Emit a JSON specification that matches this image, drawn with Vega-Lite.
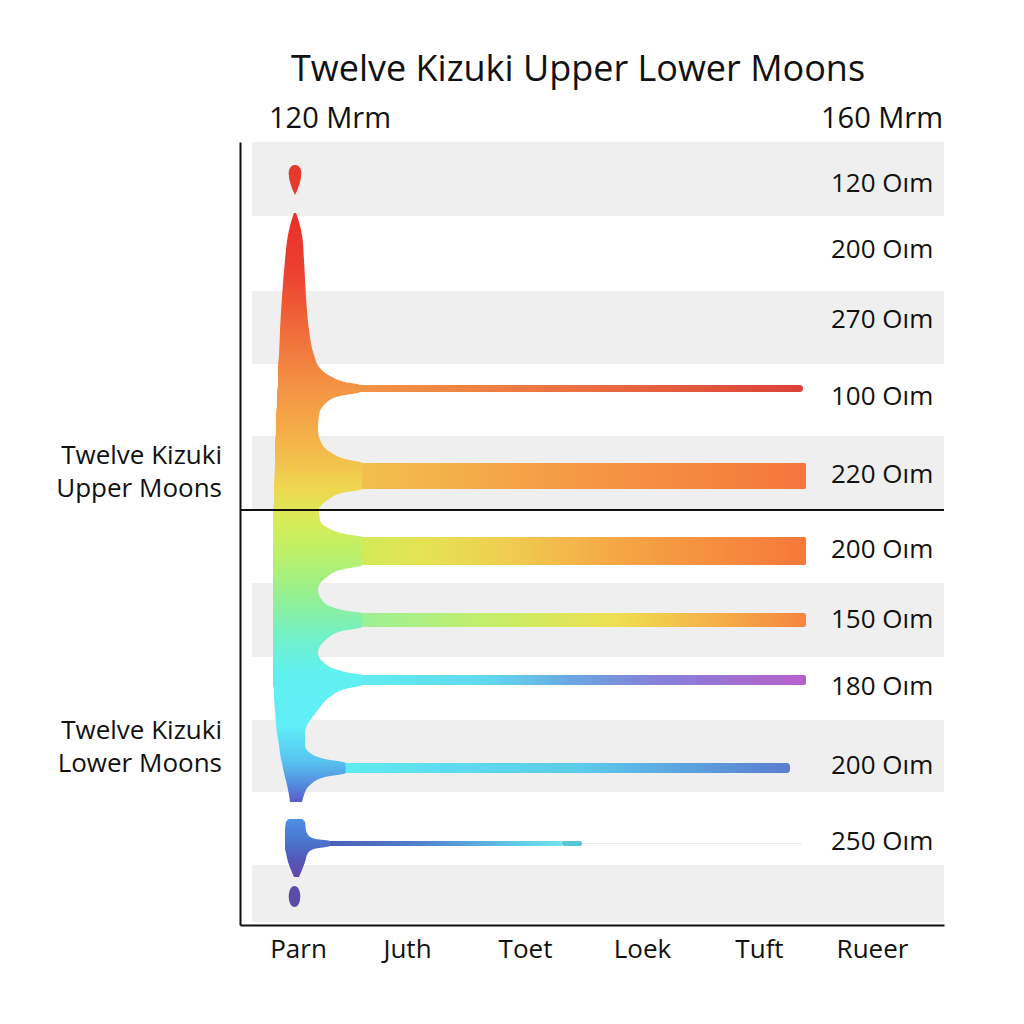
{
  "$schema": "https://vega.github.io/schema/vega-lite/v6.json",
  "width": 704,
  "height": 783,
  "autosize": "none",
  "padding": {"left": 240, "top": 142, "right": 80, "bottom": 99},
  "background": "white",
  "title": {
    "text": "Twelve Kizuki Upper Lower Moons",
    "fontSize": 36, "font": "Open Sans", "fontWeight": "normal", "color": "#111",
    "anchor": "middle", "baseline": "alphabetic", "offset": 18, "dx": -14, "dy": 30
  },
  "datasets": {
    "bands": [
      {"x": 0.1023, "x2": 6, "y": 0, "y2": 1.0396},
      {"x": 0.1023, "x2": 6, "y": 2.0932, "y2": 3.1188},
      {"x": 0.1023, "x2": 6, "y": 4.1303, "y2": 5.1839},
      {"x": 0.1023, "x2": 6, "y": 6.1954, "y2": 7.235},
      {"x": 0.1023, "x2": 6, "y": 8.1201, "y2": 9.1316},
      {"x": 0.1023, "x2": 6, "y": 10.1571, "y2": 10.9579}
    ],
    "divider": [
      {"x": 0, "x2": 6, "y": 5.1699}
    ],
    "bars": [
      {"bar": "b4", "x": 0.95, "x2": 4.7983, "y": 3.4138, "y2": 3.5121},
      {"bar": "b5", "x": 0.95, "x2": 4.8239, "y": 4.5096, "y2": 4.8748},
      {"bar": "b6", "x": 0.95, "x2": 4.8239, "y": 5.5492, "y2": 5.9425},
      {"bar": "b7", "x": 0.95, "x2": 4.8239, "y": 6.6168, "y2": 6.8135},
      {"bar": "b8", "x": 0.95, "x2": 4.8239, "y": 7.4879, "y2": 7.6284},
      {"bar": "b9", "x": 0.78, "x2": 4.6875, "y": 8.7242, "y2": 8.8647},
      {"bar": "b10", "x": 0.7, "x2": 2.7443, "y": 9.82, "y2": 9.8903},
      {"bar": "b10end", "x": 2.7443, "x2": 2.9148, "y": 9.82, "y2": 9.8903},
      {"bar": "b10faint", "x": 2.9148, "x2": 4.7898, "y": 9.8481, "y2": 9.8622}
    ],
    "blob": [
      {"y": 0.9974, "xl": 0.4602, "xr": 0.4773},
      {"y": 1.1239, "xl": 0.4347, "xr": 0.5028},
      {"y": 1.3065, "xl": 0.4091, "xr": 0.5284},
      {"y": 1.6577, "xl": 0.3835, "xr": 0.5455},
      {"y": 2.1775, "xl": 0.358, "xr": 0.5625},
      {"y": 2.6411, "xl": 0.3409, "xr": 0.5881},
      {"y": 2.9923, "xl": 0.3324, "xr": 0.6307},
      {"y": 3.175, "xl": 0.3239, "xr": 0.6818},
      {"y": 3.2874, "xl": 0.3239, "xr": 0.767},
      {"y": 3.3716, "xl": 0.3239, "xr": 0.8949},
      {"y": 3.4138, "xl": 0.3239, "xr": 1.0227},
      {"y": 3.5121, "xl": 0.3153, "xr": 1.0227},
      {"y": 3.5683, "xl": 0.3153, "xr": 0.8523},
      {"y": 3.6666, "xl": 0.3153, "xr": 0.733},
      {"y": 3.8352, "xl": 0.3068, "xr": 0.6733},
      {"y": 4.046, "xl": 0.3068, "xr": 0.6648},
      {"y": 4.2146, "xl": 0.2983, "xr": 0.6903},
      {"y": 4.355, "xl": 0.2983, "xr": 0.767},
      {"y": 4.4534, "xl": 0.2983, "xr": 0.8949},
      {"y": 4.5096, "xl": 0.2983, "xr": 1.0398},
      {"y": 4.8748, "xl": 0.2898, "xr": 1.0398},
      {"y": 4.931, "xl": 0.2898, "xr": 0.8693},
      {"y": 5.0294, "xl": 0.2898, "xr": 0.75},
      {"y": 5.1699, "xl": 0.2813, "xr": 0.6733},
      {"y": 5.3104, "xl": 0.2813, "xr": 0.6818},
      {"y": 5.4228, "xl": 0.2813, "xr": 0.75},
      {"y": 5.507, "xl": 0.2813, "xr": 0.8949},
      {"y": 5.5492, "xl": 0.2813, "xr": 1.0398},
      {"y": 5.9425, "xl": 0.2813, "xr": 1.0398},
      {"y": 6.0128, "xl": 0.2813, "xr": 0.8523},
      {"y": 6.1111, "xl": 0.2813, "xr": 0.7415},
      {"y": 6.2937, "xl": 0.2813, "xr": 0.6648},
      {"y": 6.4342, "xl": 0.2813, "xr": 0.6989},
      {"y": 6.5326, "xl": 0.2813, "xr": 0.7841},
      {"y": 6.5887, "xl": 0.2813, "xr": 0.9205},
      {"y": 6.6168, "xl": 0.2813, "xr": 1.0398},
      {"y": 6.8135, "xl": 0.2813, "xr": 1.0398},
      {"y": 6.8697, "xl": 0.2813, "xr": 0.8693},
      {"y": 6.9681, "xl": 0.2813, "xr": 0.75},
      {"y": 7.1788, "xl": 0.2813, "xr": 0.6648},
      {"y": 7.3052, "xl": 0.2813, "xr": 0.7074},
      {"y": 7.4036, "xl": 0.2813, "xr": 0.8097},
      {"y": 7.4598, "xl": 0.2813, "xr": 0.9375},
      {"y": 7.4879, "xl": 0.2813, "xr": 1.0398},
      {"y": 7.6284, "xl": 0.2813, "xr": 1.0398},
      {"y": 7.6846, "xl": 0.2898, "xr": 0.8949},
      {"y": 7.797, "xl": 0.2898, "xr": 0.767},
      {"y": 7.9796, "xl": 0.2983, "xr": 0.6648},
      {"y": 8.3027, "xl": 0.3153, "xr": 0.554},
      {"y": 8.4713, "xl": 0.3324, "xr": 0.554},
      {"y": 8.5837, "xl": 0.3409, "xr": 0.5966},
      {"y": 8.668, "xl": 0.3494, "xr": 0.7244},
      {"y": 8.7242, "xl": 0.358, "xr": 0.9},
      {"y": 8.8647, "xl": 0.375, "xr": 0.9},
      {"y": 8.9209, "xl": 0.3835, "xr": 0.7244},
      {"y": 9.0333, "xl": 0.4006, "xr": 0.5966},
      {"y": 9.1738, "xl": 0.4176, "xr": 0.5455},
      {"y": 9.2721, "xl": 0.4261, "xr": 0.5284}
    ],
    "blob2": [
      {"y": 9.511, "xl": 0.4176, "xr": 0.5284},
      {"y": 9.5531, "xl": 0.392, "xr": 0.554},
      {"y": 9.6655, "xl": 0.3835, "xr": 0.5625},
      {"y": 9.7498, "xl": 0.3835, "xr": 0.5881},
      {"y": 9.7919, "xl": 0.3835, "xr": 0.6477},
      {"y": 9.82, "xl": 0.3835, "xr": 0.767},
      {"y": 9.8903, "xl": 0.3835, "xr": 0.767},
      {"y": 9.9324, "xl": 0.3835, "xr": 0.6307},
      {"y": 9.9886, "xl": 0.392, "xr": 0.5795},
      {"y": 10.115, "xl": 0.4091, "xr": 0.554},
      {"y": 10.2274, "xl": 0.4347, "xr": 0.5284},
      {"y": 10.3257, "xl": 0.4602, "xr": 0.5028}
    ],
    "drops": [
      {"kind": "top", "x": 0.4688, "y": 0.5338},
      {"kind": "bottom", "x": 0.4645, "y": 10.5996}
    ],
    "rowLabels": [
      {"label": "120 Oım", "y": 0.7024},
      {"label": "200 Oım", "y": 1.6296},
      {"label": "270 Oım", "y": 2.613},
      {"label": "100 Oım", "y": 3.6948},
      {"label": "220 Oım", "y": 4.7906},
      {"label": "200 Oım", "y": 5.8442},
      {"label": "150 Oım", "y": 6.8276},
      {"label": "180 Oım", "y": 7.7688},
      {"label": "200 Oım", "y": 8.8787},
      {"label": "250 Oım", "y": 9.9464}
    ],
    "topLabels": [
      {"label": "120 Mrm", "x": 0.767, "y": -0.1967},
      {"label": "160 Mrm", "x": 5.4716, "y": -0.1967}
    ],
    "sideLabels": [
      {"label": ["Twelve Kizuki", "Upper Moons"], "x": -0.1534, "y": 4.5236},
      {"label": ["Twelve Kizuki", "Lower Moons"], "x": -0.1534, "y": 8.387}
    ]
  },
  "layer": [
    {
      "data": {"name": "bands"},
      "mark": {"type": "rect", "color": "#efefef"},
      "encoding": {
        "x": {
          "field": "x", "type": "quantitative", "title": null,
          "scale": {"domain": [0, 6]},
          "axis": {
            "values": [0.4943, 1.4233, 2.429, 3.4261, 4.4233, 5.3864],
            "labelExpr": "['Parn','Juth','Toet','Loek','Tuft','Rueer'][floor(datum.value)]",
            "ticks": false, "tickSize": 0, "grid": false,
            "domainColor": "#111", "domainWidth": 2,
            "labelFont": "Open Sans", "labelFontSize": 26, "labelColor": "#111",
            "labelBaseline": "alphabetic", "labelPadding": 32, "labelFlush": false
          }
        },
        "x2": {"field": "x2"},
        "y": {
          "field": "y", "type": "quantitative", "title": null,
          "scale": {"domain": [0, 11], "reverse": true},
          "axis": {
            "labels": false, "ticks": false, "grid": false,
            "domainColor": "#111", "domainWidth": 2
          }
        },
        "y2": {"field": "y2"}
      }
    },
    {
      "data": {"name": "bars"},
      "transform": [{"filter": "datum.bar == 'b4'"}],
      "mark": {"type": "rect", "cornerRadius": 3, "color": {"gradient": "linear", "x1": 0, "y1": 0, "x2": 1, "y2": 0,
        "stops": [{"offset": 0, "color": "#f29646"}, {"offset": 0.5, "color": "#ea7042"}, {"offset": 1, "color": "#dc4038"}]}},
      "encoding": {
        "x": {"field": "x", "type": "quantitative", "scale": {"domain": [0, 6]}, "title": null},
        "x2": {"field": "x2"},
        "y": {"field": "y", "type": "quantitative", "scale": {"domain": [0, 11], "reverse": true}, "title": null},
        "y2": {"field": "y2"}
      }
    },
    {
      "data": {"name": "bars"},
      "transform": [{"filter": "datum.bar == 'b5'"}],
      "mark": {"type": "rect", "cornerRadius": 2, "color": {"gradient": "linear", "x1": 0, "y1": 0, "x2": 1, "y2": 0,
        "stops": [{"offset": 0, "color": "#f2c24e"}, {"offset": 0.45, "color": "#f59c46"}, {"offset": 1, "color": "#f5763c"}]}},
      "encoding": {
        "x": {"field": "x", "type": "quantitative", "scale": {"domain": [0, 6]}, "title": null},
        "x2": {"field": "x2"},
        "y": {"field": "y", "type": "quantitative", "scale": {"domain": [0, 11], "reverse": true}, "title": null},
        "y2": {"field": "y2"}
      }
    },
    {
      "data": {"name": "bars"},
      "transform": [{"filter": "datum.bar == 'b6'"}],
      "mark": {"type": "rect", "cornerRadius": 2, "color": {"gradient": "linear", "x1": 0, "y1": 0, "x2": 1, "y2": 0,
        "stops": [{"offset": 0, "color": "#d0ea5a"}, {"offset": 0.15, "color": "#e4e454"}, {"offset": 0.35, "color": "#f0cc50"}, {"offset": 0.6, "color": "#f5a444"}, {"offset": 1, "color": "#f6783a"}]}},
      "encoding": {
        "x": {"field": "x", "type": "quantitative", "scale": {"domain": [0, 6]}, "title": null},
        "x2": {"field": "x2"},
        "y": {"field": "y", "type": "quantitative", "scale": {"domain": [0, 11], "reverse": true}, "title": null},
        "y2": {"field": "y2"}
      }
    },
    {
      "data": {"name": "bars"},
      "transform": [{"filter": "datum.bar == 'b7'"}],
      "mark": {"type": "rect", "cornerRadius": 2, "color": {"gradient": "linear", "x1": 0, "y1": 0, "x2": 1, "y2": 0,
        "stops": [{"offset": 0, "color": "#98f09a"}, {"offset": 0.3, "color": "#c4ee6a"}, {"offset": 0.58, "color": "#eee050"}, {"offset": 0.8, "color": "#f5b048"}, {"offset": 1, "color": "#f58440"}]}},
      "encoding": {
        "x": {"field": "x", "type": "quantitative", "scale": {"domain": [0, 6]}, "title": null},
        "x2": {"field": "x2"},
        "y": {"field": "y", "type": "quantitative", "scale": {"domain": [0, 11], "reverse": true}, "title": null},
        "y2": {"field": "y2"}
      }
    },
    {
      "data": {"name": "bars"},
      "transform": [{"filter": "datum.bar == 'b8'"}],
      "mark": {"type": "rect", "cornerRadius": 2, "color": {"gradient": "linear", "x1": 0, "y1": 0, "x2": 1, "y2": 0,
        "stops": [{"offset": 0, "color": "#60eef0"}, {"offset": 0.3, "color": "#62d8f0"}, {"offset": 0.48, "color": "#6aa8e0"}, {"offset": 0.66, "color": "#8484d8"}, {"offset": 1, "color": "#b860cc"}]}},
      "encoding": {
        "x": {"field": "x", "type": "quantitative", "scale": {"domain": [0, 6]}, "title": null},
        "x2": {"field": "x2"},
        "y": {"field": "y", "type": "quantitative", "scale": {"domain": [0, 11], "reverse": true}, "title": null},
        "y2": {"field": "y2"}
      }
    },
    {
      "data": {"name": "bars"},
      "transform": [{"filter": "datum.bar == 'b9'"}],
      "mark": {"type": "rect", "cornerRadius": 3, "color": {"gradient": "linear", "x1": 0, "y1": 0, "x2": 1, "y2": 0,
        "stops": [{"offset": 0, "color": "#60ecf0"}, {"offset": 0.55, "color": "#5ccaec"}, {"offset": 1, "color": "#5a7cd0"}]}},
      "encoding": {
        "x": {"field": "x", "type": "quantitative", "scale": {"domain": [0, 6]}, "title": null},
        "x2": {"field": "x2"},
        "y": {"field": "y", "type": "quantitative", "scale": {"domain": [0, 11], "reverse": true}, "title": null},
        "y2": {"field": "y2"}
      }
    },
    {
      "data": {"name": "bars"},
      "transform": [{"filter": "datum.bar == 'b10faint'"}],
      "mark": {"type": "rect", "color": "#ebebeb"},
      "encoding": {
        "x": {"field": "x", "type": "quantitative", "scale": {"domain": [0, 6]}, "title": null},
        "x2": {"field": "x2"},
        "y": {"field": "y", "type": "quantitative", "scale": {"domain": [0, 11], "reverse": true}, "title": null},
        "y2": {"field": "y2"}
      }
    },
    {
      "data": {"name": "bars"},
      "transform": [{"filter": "datum.bar == 'b10end'"}],
      "mark": {"type": "rect", "cornerRadius": 2, "color": "#5cc4d8"},
      "encoding": {
        "x": {"field": "x", "type": "quantitative", "scale": {"domain": [0, 6]}, "title": null},
        "x2": {"field": "x2"},
        "y": {"field": "y", "type": "quantitative", "scale": {"domain": [0, 11], "reverse": true}, "title": null},
        "y2": {"field": "y2"}
      }
    },
    {
      "data": {"name": "bars"},
      "transform": [{"filter": "datum.bar == 'b10'"}],
      "mark": {"type": "rect", "color": {"gradient": "linear", "x1": 0, "y1": 0, "x2": 1, "y2": 0,
        "stops": [{"offset": 0, "color": "#4a5cb8"}, {"offset": 0.4, "color": "#5080cc"}, {"offset": 0.8, "color": "#60c8e8"}, {"offset": 1, "color": "#70e4f0"}]}},
      "encoding": {
        "x": {"field": "x", "type": "quantitative", "scale": {"domain": [0, 6]}, "title": null},
        "x2": {"field": "x2"},
        "y": {"field": "y", "type": "quantitative", "scale": {"domain": [0, 11], "reverse": true}, "title": null},
        "y2": {"field": "y2"}
      }
    },
    {
      "data": {"name": "blob"},
      "mark": {"type": "area", "orient": "horizontal", "interpolate": "monotone", "color": {"gradient": "linear", "x1": 0, "y1": 0, "x2": 0, "y2": 1,
        "stops": [
          {"offset": 0, "color": "#e8302a"},
          {"offset": 0.1, "color": "#ec4030"},
          {"offset": 0.2, "color": "#f06c3a"},
          {"offset": 0.3, "color": "#f49444"},
          {"offset": 0.4, "color": "#f4b84a"},
          {"offset": 0.47, "color": "#eed850"},
          {"offset": 0.52, "color": "#d8ec58"},
          {"offset": 0.57, "color": "#c0f064"},
          {"offset": 0.65, "color": "#94f090"},
          {"offset": 0.72, "color": "#72f0c8"},
          {"offset": 0.78, "color": "#60f0f0"},
          {"offset": 0.87, "color": "#60eef8"},
          {"offset": 0.93, "color": "#58c4f0"},
          {"offset": 0.975, "color": "#5484dc"},
          {"offset": 1, "color": "#5a5cc8"}
        ]}},
      "encoding": {
        "y": {"field": "y", "type": "quantitative", "scale": {"domain": [0, 11], "reverse": true}, "title": null},
        "x": {"field": "xl", "type": "quantitative", "scale": {"domain": [0, 6]}, "title": null},
        "x2": {"field": "xr"}
      }
    },
    {
      "data": {"name": "blob2"},
      "mark": {"type": "area", "orient": "horizontal", "interpolate": "monotone", "color": {"gradient": "linear", "x1": 0, "y1": 0, "x2": 0, "y2": 1,
        "stops": [
          {"offset": 0, "color": "#4c90e4"},
          {"offset": 0.35, "color": "#4a78d0"},
          {"offset": 0.7, "color": "#5458b8"},
          {"offset": 1, "color": "#6448a8"}
        ]}},
      "encoding": {
        "y": {"field": "y", "type": "quantitative", "scale": {"domain": [0, 11], "reverse": true}, "title": null},
        "x": {"field": "xl", "type": "quantitative", "scale": {"domain": [0, 6]}, "title": null},
        "x2": {"field": "xr"}
      }
    },
    {
      "data": {"name": "drops"},
      "transform": [{"filter": "datum.kind == 'top'"}],
      "mark": {"type": "point", "filled": true, "opacity": 1, "size": 900, "color": "#e63a2e",
        "shape": "M0,1 C-0.25,0.5 -0.42,0 -0.42,-0.45 C-0.42,-0.85 -0.2,-1 0,-1 C0.2,-1 0.42,-0.85 0.42,-0.45 C0.42,0 0.25,0.5 0,1 Z"},
      "encoding": {
        "x": {"field": "x", "type": "quantitative", "scale": {"domain": [0, 6]}, "title": null},
        "y": {"field": "y", "type": "quantitative", "scale": {"domain": [0, 11], "reverse": true}, "title": null}
      }
    },
    {
      "data": {"name": "drops"},
      "transform": [{"filter": "datum.kind == 'bottom'"}],
      "mark": {"type": "point", "filled": true, "opacity": 1, "size": 441, "color": "#5c4ca8",
        "shape": "M0,-1 C0.33,-1 0.55,-0.55 0.55,0 C0.55,0.55 0.33,1 0,1 C-0.33,1 -0.55,0.55 -0.55,0 C-0.55,-0.55 -0.33,-1 0,-1 Z"},
      "encoding": {
        "x": {"field": "x", "type": "quantitative", "scale": {"domain": [0, 6]}, "title": null},
        "y": {"field": "y", "type": "quantitative", "scale": {"domain": [0, 11], "reverse": true}, "title": null}
      }
    },
    {
      "data": {"name": "divider"},
      "mark": {"type": "rule", "color": "#111", "strokeWidth": 2},
      "encoding": {
        "x": {"field": "x", "type": "quantitative", "scale": {"domain": [0, 6]}, "title": null},
        "x2": {"field": "x2"},
        "y": {"field": "y", "type": "quantitative", "scale": {"domain": [0, 11], "reverse": true}, "title": null}
      }
    },
    {
      "data": {"name": "rowLabels"},
      "mark": {"type": "text", "align": "left", "baseline": "alphabetic", "font": "Open Sans", "fontSize": 26, "color": "#111"},
      "encoding": {
        "x": {"datum": 5.037, "type": "quantitative", "scale": {"domain": [0, 6]}, "title": null},
        "y": {"field": "y", "type": "quantitative", "scale": {"domain": [0, 11], "reverse": true}, "title": null},
        "text": {"field": "label"}
      }
    },
    {
      "data": {"name": "topLabels"},
      "mark": {"type": "text", "align": "center", "baseline": "alphabetic", "font": "Open Sans", "fontSize": 29, "color": "#111"},
      "encoding": {
        "x": {"field": "x", "type": "quantitative", "scale": {"domain": [0, 6]}, "title": null},
        "y": {"field": "y", "type": "quantitative", "scale": {"domain": [0, 11], "reverse": true}, "title": null},
        "text": {"field": "label"}
      }
    },
    {
      "data": {"name": "sideLabels"},
      "mark": {"type": "text", "align": "right", "baseline": "alphabetic", "font": "Open Sans", "fontSize": 26, "lineHeight": 33, "color": "#111"},
      "encoding": {
        "x": {"field": "x", "type": "quantitative", "scale": {"domain": [0, 6]}, "title": null},
        "y": {"field": "y", "type": "quantitative", "scale": {"domain": [0, 11], "reverse": true}, "title": null},
        "text": {"field": "label"}
      }
    }
  ],
  "config": {
    "view": {"stroke": null},
    "axis": {"grid": false}
  }
}
